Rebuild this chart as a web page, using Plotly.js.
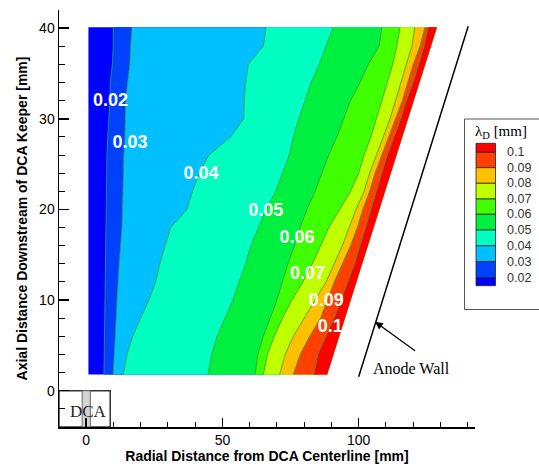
<!DOCTYPE html>
<html><head><meta charset="utf-8">
<script src="https://cdn.plot.ly/plotly-3.0.1.min.js"></script>
<style>html,body{margin:0;padding:0;background:#fff}#chart{width:539px;height:464px}</style>
</head><body><div id="chart"></div>
<script>
// Axial positions (mm) at which the band boundaries were read
const rowY      = [1.8, 4, 6, 8, 10, 12, 14, 16, 18, 20, 22, 24, 26, 28, 30, 32, 34, 36, 38, 40.1];
const edgeLeft  = 0.8;
// Radial position (mm) of each contour boundary at those rows
const line002 = [6.5, 6.6, 6.7, 6.8, 6.9, 6.9, 7.0, 7.0, 7.1, 7.3, 7.4, 7.5, 7.6, 7.9, 8.4, 8.7, 8.8, 9.6, 9.9, 9.9];
const line003 = [9.9, 10.2, 10.6, 11.0, 11.3, 11.6, 12.1, 12.6, 13.1, 13.3, 13.4, 13.5, 13.8, 14.2, 14.3, 14.5, 15.2, 16.0, 16.3, 16.8];
const line004 = [13.6, 15.0, 17.0, 20.0, 23.0, 25.5, 27.0, 29.0, 31.0, 37.0, 39.0, 41.5, 45.0, 53.0, 57.8, 58.0, 58.5, 59.5, 65.0, 66.0];
const line005 = [44.7, 46.0, 48.0, 51.0, 53.8, 56.0, 58.5, 60.4, 63.2, 66.0, 69.5, 72.0, 74.5, 76.0, 78.0, 80.3, 82.5, 85.5, 88.0, 90.6];
const line006 = [62.0, 63.0, 65.0, 67.5, 70.0, 72.0, 74.0, 76.5, 78.5, 81.0, 84.0, 86.5, 89.0, 92.0, 94.5, 97.0, 100.5, 103.5, 107.5, 108.5];
const line007 = [65.0, 66.5, 69.0, 72.0, 75.5, 79.5, 83.0, 86.0, 89.0, 93.0, 97.0, 100.0, 102.0, 104.5, 106.5, 108.5, 110.5, 112.5, 114.0, 115.2];
const line008 = [71.0, 73.0, 76.0, 80.0, 84.0, 88.0, 91.0, 94.0, 96.5, 99.0, 102.0, 104.0, 106.5, 109.0, 111.5, 113.5, 115.5, 117.5, 119.5, 120.6];
const line009 = [76.0, 78.5, 82.0, 86.0, 88.5, 91.0, 94.0, 97.0, 99.5, 101.5, 104.0, 106.0, 108.5, 111.0, 113.5, 116.0, 118.0, 120.0, 122.5, 124.3];
const line010 = [83.5, 85.0, 88.0, 91.0, 93.5, 96.0, 98.5, 100.5, 102.5, 104.5, 106.5, 108.5, 110.5, 113.0, 115.5, 117.5, 120.0, 122.0, 124.0, 125.5];
const wallEdge = [88.4, 90.8, 92.9, 95.0, 97.1, 99.2, 101.3, 103.4, 105.5, 107.6, 109.7, 111.8, 113.9, 116.0, 118.1, 120.2, 122.3, 124.4, 126.5, 128.7];

const levelLabels = ['0.02', '0.03', '0.04', '0.05', '0.06', '0.07', '0.08', '0.09', '0.1'];
const bandColors  = ['#0000FF', '#0040FF', '#00C0FF', '#00FFC0', '#00F040', '#40FF00', '#C0FF00', '#FFC000', '#FF4000', '#FF0000'];

const labelText = ['0.02', '0.03', '0.04', '0.05', '0.06', '0.07', '0.09', '0.1'];
const labelX    = [8.9, 16.1, 42.1, 65.9, 77.4, 81.2, 88.1, 89.6];
const labelY    = [31.9, 27.3, 23.8, 19.8, 16.8, 12.8, 9.8, 7.0];

const anodeWallX = [100, 140.2];
const anodeWallY = [1.55, 40.2];

// ---------- build traces ----------
const boundaries = [line002, line003, line004, line005, line006, line007, line008, line009, line010];
const leftEdges = [rowY.map(() => edgeLeft)].concat(boundaries);
const traces = [];
const revY = rowY.slice().reverse();
const revWall = wallEdge.slice().reverse();
leftEdges.forEach((lx, i) => {
  traces.push({
    type: 'scatter', mode: 'lines', fill: 'toself',
    x: lx.concat(revWall), y: rowY.concat(revY),
    fillcolor: bandColors[i], line: {width: 0, color: bandColors[i]},
    hoverinfo: 'skip', showlegend: false
  });
});
boundaries.forEach(bx => {
  traces.push({
    type: 'scatter', mode: 'lines', x: bx, y: rowY,
    line: {width: 0.8, color: '#3a9a3a'}, hoverinfo: 'skip', showlegend: false
  });
});
traces.push({
  type: 'scatter', mode: 'lines', x: anodeWallX, y: anodeWallY,
  line: {width: 1.5, color: '#000'}, hoverinfo: 'skip', showlegend: false
});
traces.push({
  type: 'scatter', mode: 'text', x: labelX, y: labelY, text: labelText,
  textfont: {family: 'Liberation Sans, Arial, sans-serif', size: 18, color: '#fff', weight: 'bold'},
  textposition: 'middle center', hoverinfo: 'skip', showlegend: false, cliponaxis: false
});

// ---------- legend (pixel -> paper helpers) ----------
const M = {l: 59, r: 64, t: 10, b: 37};
const W = 539, H = 464;
const pw = W - M.l - M.r, ph = H - M.t - M.b;
const px = v => (v - M.l) / pw;
const py = v => (H - M.b - v) / ph;

const shapes = [];
const annotations = [];
// legend frame
shapes.push({type: 'rect', xref: 'paper', yref: 'paper', x0: px(464.5), x1: px(548), y0: py(309.5), y1: py(119),
  line: {color: '#555', width: 1}, fillcolor: 'rgba(0,0,0,0)', layer: 'above'});
// swatch edges, top -> bottom
const swEdges = [143.3, 152.3, 167.7, 183.3, 199, 214.3, 230, 245.7, 261.7, 277.7, 285.7];
for (let i = 0; i < 10; i++) {
  const col = bandColors[9 - i];
  shapes.push({type: 'rect', xref: 'paper', yref: 'paper', x0: px(476), x1: px(495.5),
    y0: py(swEdges[i + 1]), y1: py(swEdges[i]), fillcolor: col, line: {color: '#222', width: 0.8}, layer: 'above'});
}
for (let i = 0; i < levelLabels.length; i++) {
  const lab = levelLabels[levelLabels.length - 1 - i];
  annotations.push({xref: 'paper', yref: 'paper', x: px(505), y: py(swEdges[i + 1]), xanchor: 'left', yanchor: 'middle',
    text: lab, showarrow: false, font: {family: 'Liberation Sans, Arial, sans-serif', size: 12.5, color: '#333'}});
}
annotations.push({xref: 'paper', yref: 'paper', x: px(473), y: py(132), xanchor: 'left', yanchor: 'middle',
  text: 'λ<sub>D</sub> [mm]', showarrow: false, font: {family: 'Liberation Serif, Times New Roman, serif', size: 15, color: '#000'}});

// DCA box
shapes.push({type: 'rect', xref: 'x', yref: 'y', x0: -10, x1: 8.8, y0: -4, y1: 0, line: {color: '#333', width: 1.5}, fillcolor: '#fff', layer: 'below'});
shapes.push({type: 'rect', xref: 'x', yref: 'y', x0: -1.5, x1: 1.5, y0: -4, y1: 0, line: {color: '#666', width: 1}, fillcolor: '#d4d4d4', layer: 'below'});
annotations.push({xref: 'x', yref: 'y', x: 0.9, y: -2.3, xanchor: 'center', yanchor: 'middle', text: 'DCA', showarrow: false,
  font: {family: 'Liberation Serif, Times New Roman, serif', size: 17, color: '#222'}});

// Anode wall arrow + text
annotations.push({xref: 'x', yref: 'y', x: 106, y: 7.6, text: ' ', showarrow: true, arrowhead: 2, arrowsize: 1.2,
  arrowwidth: 1.3, arrowcolor: '#000', ax: 43, ay: 31, standoff: 0});
annotations.push({xref: 'paper', yref: 'paper', x: px(411), y: py(368), xanchor: 'center', yanchor: 'middle',
  text: 'Anode Wall', showarrow: false,
  font: {family: 'Liberation Serif, Times New Roman, serif', size: 16, color: '#000'}});

const axisFont = {family: 'Liberation Sans, Arial, sans-serif', size: 14, color: '#000'};
const titleFont = {family: 'Liberation Sans, Arial, sans-serif', size: 14, color: '#000', weight: 'bold'};

const layout = {
  width: W, height: H, margin: M,
  paper_bgcolor: '#fff', plot_bgcolor: '#fff',
  showlegend: false,
  xaxis: {
    range: [-10, 142.7], showgrid: false, zeroline: false, showline: true, linecolor: '#000', linewidth: 1.5,
    ticks: 'inside', ticklen: 9, tickwidth: 1.5, tickcolor: '#000', tick0: 0, dtick: 50,
    minor: {ticks: 'inside', ticklen: 5, tickwidth: 1, tickcolor: '#000', tick0: 0, dtick: 10},
    tickfont: axisFont,
    title: {text: 'Radial Distance from DCA Centerline [mm]', font: titleFont, standoff: 2}
  },
  yaxis: {
    range: [-4, 42], showgrid: false, zeroline: false, showline: true, linecolor: '#000', linewidth: 1.5,
    ticks: 'inside', ticklen: 10, tickwidth: 1.5, tickcolor: '#000', tick0: 0, dtick: 10,
    minor: {ticks: 'inside', ticklen: 6, tickwidth: 1, tickcolor: '#000', tick0: 0, dtick: 2},
    tickfont: axisFont,
    title: {text: 'Axial Distance Downstream of DCA Keeper [mm]', font: titleFont, standoff: 8}
  },
  shapes: shapes,
  annotations: annotations
};

Plotly.newPlot('chart', traces, layout, {displayModeBar: false, staticPlot: true});
</script>
</body></html>
